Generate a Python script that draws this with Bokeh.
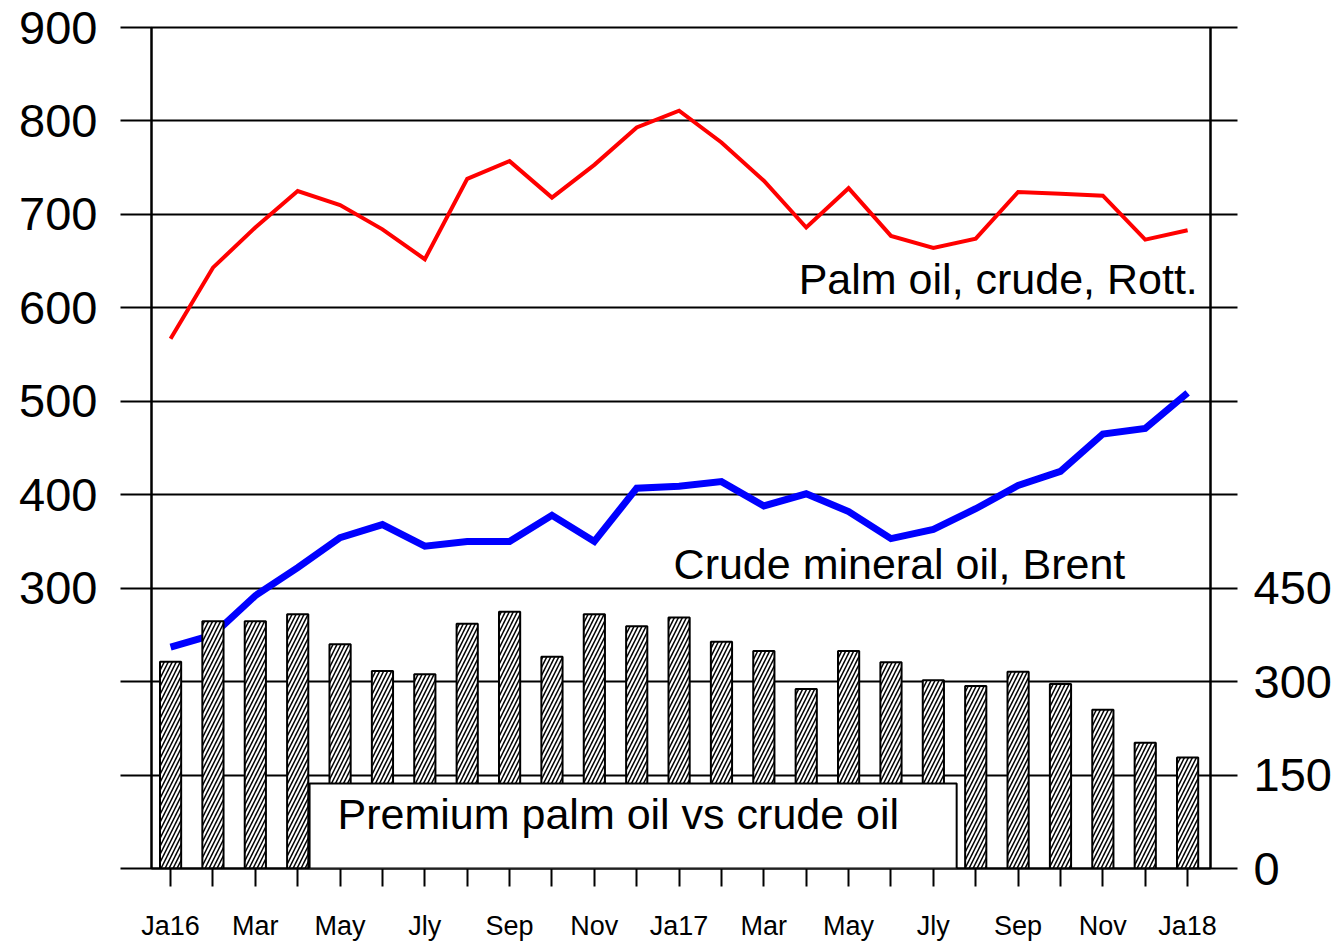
from bokeh.plotting import figure
from bokeh.models import (Range1d, LinearAxis, FixedTicker, BoxAnnotation, Label)
from bokeh.embed import file_html
from bokeh.resources import INLINE

# ---- data ----
month_idx = list(range(25))
tick_labels = ["Ja16", "", "Mar", "", "May", "", "Jly", "", "Sep", "", "Nov", "",
               "Ja17", "", "Mar", "", "May", "", "Jly", "", "Sep", "", "Nov", "", "Ja18"]
palm = [567, 643, 686, 725, 710, 684, 652, 738, 757, 718, 753, 793, 811,
        777, 736, 686, 728, 677, 664, 674, 724, 722, 720, 673, 683]
brent = [237, 250, 292, 322, 354, 368, 345, 350, 350, 378, 350, 407, 409,
         414, 388, 401, 382, 353, 363, 385, 410, 425, 465, 471, 509]
premium = [332, 397, 397, 408, 360, 317, 312, 393, 412, 340, 408, 389, 403,
           364, 349, 288, 349, 331, 302, 293, 316, 296, 255, 202, 178]
left_ticks = [0, 100, 200, 300, 400, 500, 600, 700, 800, 900]
left_hidden = [0, 100, 200]
right_ticks = [0, 150, 300, 450, 600, 750, 900, 1050, 1200, 1350]
right_shown = [0, 150, 300, 450]

FONT = "Liberation Sans"

p = figure(width=1341, height=944, output_backend="svg", toolbar_location=None,
           x_range=Range1d(-0.45, 24.54), y_range=Range1d(0, 900),
           min_border_left=151, min_border_right=131, min_border_top=27,
           min_border_bottom=76)
p.extra_y_ranges = {"prem": Range1d(0, 1350)}

p.outline_line_color = "black"
p.outline_line_width = 2
p.background_fill_color = "white"
p.border_fill_color = "white"

# grid
p.xgrid.grid_line_color = None
p.ygrid.grid_line_color = "black"
p.ygrid.grid_line_width = 2
p.ygrid.ticker = FixedTicker(ticks=left_ticks)

# x axis
xa = p.xaxis[0]
xa.ticker = FixedTicker(ticks=month_idx)
xa.major_label_overrides = {i: t for i, t in zip(month_idx, tick_labels)}
xa.major_tick_out = 18
xa.major_tick_in = 0
xa.minor_tick_line_color = None
xa.axis_line_width = 2
xa.major_tick_line_width = 2
xa.major_label_standoff = 24
xa.major_label_text_font = FONT
xa.major_label_text_font_size = "27px"
xa.major_label_text_color = "black"

# left axis
ya = p.yaxis[0]
ya.ticker = FixedTicker(ticks=left_ticks)
ya.major_label_overrides = {t: ("" if t in left_hidden else str(t)) for t in left_ticks}
ya.major_tick_out = 31
ya.major_tick_in = 0
ya.minor_tick_line_color = None
ya.axis_line_width = 2
ya.major_tick_line_width = 2
ya.major_label_standoff = 23
ya.major_label_text_font = FONT
ya.major_label_text_font_size = "47px"
ya.major_label_text_color = "black"

# right axis
ra = LinearAxis(y_range_name="prem", ticker=FixedTicker(ticks=right_ticks))
ra.major_label_overrides = {t: (str(t) if t in right_shown else "") for t in right_ticks}
ra.major_tick_out = 27
ra.major_tick_in = 0
ra.minor_tick_line_color = None
ra.axis_line_width = 2
ra.major_tick_line_width = 2
ra.major_label_standoff = 16
ra.major_label_text_font = FONT
ra.major_label_text_font_size = "47px"
ra.major_label_text_color = "black"
p.add_layout(ra, "right")

# lines
p.line(month_idx, palm, line_color="red", line_width=4, line_join="miter")
p.line(month_idx, brent, line_color="blue", line_width=7, line_join="miter")

# bars
p.vbar(x=month_idx, top=premium, width=0.5, bottom=0, y_range_name="prem",
       fill_color="white", line_color="black", line_width=2,
       hatch_pattern="/", hatch_color="black", hatch_scale=8, hatch_weight=1.5)

# box over bars
box = BoxAnnotation(left=3.28, right=18.55, bottom=0, top=91,
                    fill_color="white", fill_alpha=1.0,
                    line_color="black", line_width=2, line_alpha=1.0)
p.add_layout(box)

p.add_layout(Label(x=3.94, y=58, text="Premium palm oil vs crude oil",
                   text_font=FONT, text_font_size="43px", text_color="black",
                   text_baseline="alphabetic", text_align="left"))
p.add_layout(Label(x=24.24, y=631, text="Palm oil, crude, Rott.",
                   text_font=FONT, text_font_size="43px", text_color="black",
                   text_baseline="alphabetic", text_align="right"))
p.add_layout(Label(x=11.87, y=326, text="Crude mineral oil, Brent",
                   text_font=FONT, text_font_size="43px", text_color="black",
                   text_baseline="alphabetic", text_align="left"))

open("out.html", "w").write(file_html(p, INLINE))
